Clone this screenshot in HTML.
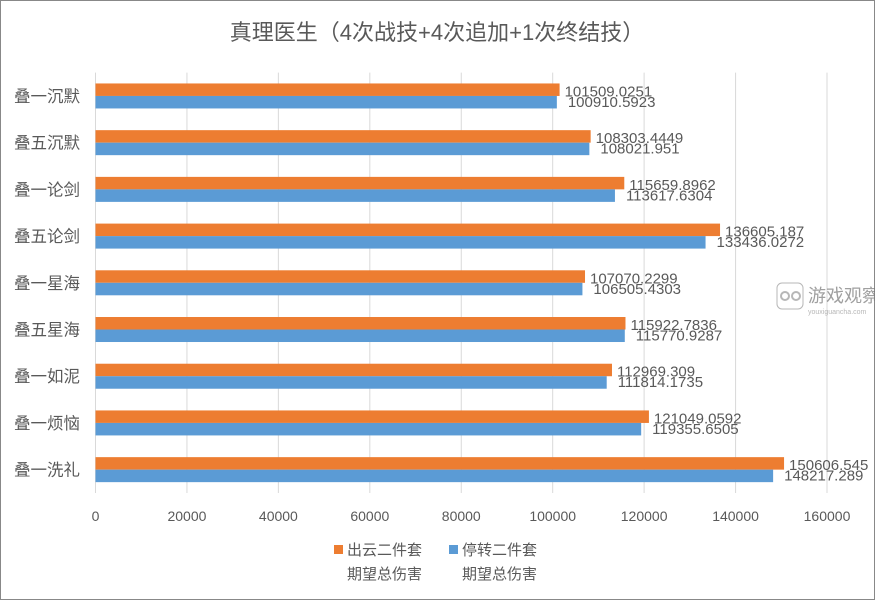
<!DOCTYPE html>
<html><head><meta charset="utf-8"><style>
body{margin:0;background:#fff}
svg{display:block;font-family:"Liberation Sans","Noto Sans CJK SC",sans-serif}
</style></head><body>
<svg id="c" width="875" height="600" viewBox="0 0 875 600">
<rect x="0.5" y="0.5" width="874" height="599" fill="#fff" stroke="#888"/>
<text x="437" y="40" text-anchor="middle" font-size="22" fill="#595959">真理医生（4次战技+4次追加+1次终结技）</text>
<g id="grid"></g><g id="bars"></g><g id="labels"></g>
<g opacity="0.7">
<rect x="777" y="283" width="26" height="26" rx="5" fill="none" stroke="#999"/>
<circle cx="785" cy="296" r="4" fill="none" stroke="#999" stroke-width="2"/>
<circle cx="796" cy="296" r="4" fill="none" stroke="#999" stroke-width="2"/>
<text x="808" y="302" font-size="18" fill="#777">游戏观察</text>
<text x="808" y="314" font-size="7" fill="#999">youxiguancha.com</text>
</g>
<g>
<g>
<rect x="334" y="545" width="9" height="9" fill="#ED7D31"/>
<text x="347" y="555" font-size="15" fill="#595959">出云二件套</text>
<text x="347" y="579" font-size="15" fill="#595959">期望总伤害</text></g>
<g>
<rect x="449" y="545" width="9" height="9" fill="#5B9BD5"/>
<text x="462" y="555" font-size="15" fill="#595959">停转二件套</text>
<text x="462" y="579" font-size="15" fill="#595959">期望总伤害</text></g>
</g>
</svg>
<script>
const categories=["叠一沉默","叠五沉默","叠一论剑","叠五论剑","叠一星海","叠五星海","叠一如泥","叠一烦恼","叠一洗礼"];
const orangeVals=[101509.0251,108303.4449,115659.8962,136605.187,107070.2299,115922.7836,112969.309,121049.0592,150606.545];
const blueVals=[100910.5923,108021.951,113617.6304,133436.0272,106505.4303,115770.9287,111814.1735,119355.6505,148217.289];
const orangeText=["101509.0251","108303.4449","115659.8962","136605.187","107070.2299","115922.7836","112969.309","121049.0592","150606.545"];
const blueText=["100910.5923","108021.951","113617.6304","133436.0272","106505.4303","115770.9287","111814.1735","119355.6505","148217.289"];
const ticks=[0,20000,40000,60000,80000,100000,120000,140000,160000];
const NS="http://www.w3.org/2000/svg";
const x0=95.5,x1=827,yTop=72.6,yBottom=493,max=160000;
const band=(yBottom-yTop)/categories.length,bh=12.5;
const xs=v=>x0+v/max*(x1-x0);
const yc=i=>yTop+band*(i+0.5);
function mk(t,a,p){const e=document.createElementNS(NS,t);for(const k in a)e.setAttribute(k,a[k]);p.appendChild(e);return e;}
const g=document.getElementById('grid'),b=document.getElementById('bars'),l=document.getElementById('labels');
ticks.forEach(t=>{
 const ln=mk('line',{x1:xs(t),x2:xs(t),y1:yTop,y2:yBottom,stroke:'#d9d9d9','stroke-width':1},g);
 
 
 const tx=mk('text',{x:xs(t),y:521,'text-anchor':'middle','font-size':14,fill:'#595959'},g);
 tx.textContent=t;
 
 
});
categories.forEach((c,i)=>{
 const y=yc(i);
 const ct=mk('text',{x:80,y:y+6,'text-anchor':'end','font-size':16.5,fill:'#595959'},l);
 ct.textContent=c;
 
 
 const ro=mk('rect',{x:x0,y:y-bh,width:xs(orangeVals[i])-x0,height:bh,fill:'#ED7D31'},b);
 
 
 const rb=mk('rect',{x:x0,y:y,width:xs(blueVals[i])-x0,height:bh,fill:'#5B9BD5'},b);
 
 
 const to=mk('text',{x:xs(orangeVals[i])+5,y:y+0.5,'font-size':15,fill:'#595959'},l);
 to.textContent=orangeText[i];
 
 
 const tb=mk('text',{x:xs(blueVals[i])+11,y:y+11,'font-size':15,fill:'#595959'},l);
 tb.textContent=blueText[i];
 
 
});
</script>
</body></html>
